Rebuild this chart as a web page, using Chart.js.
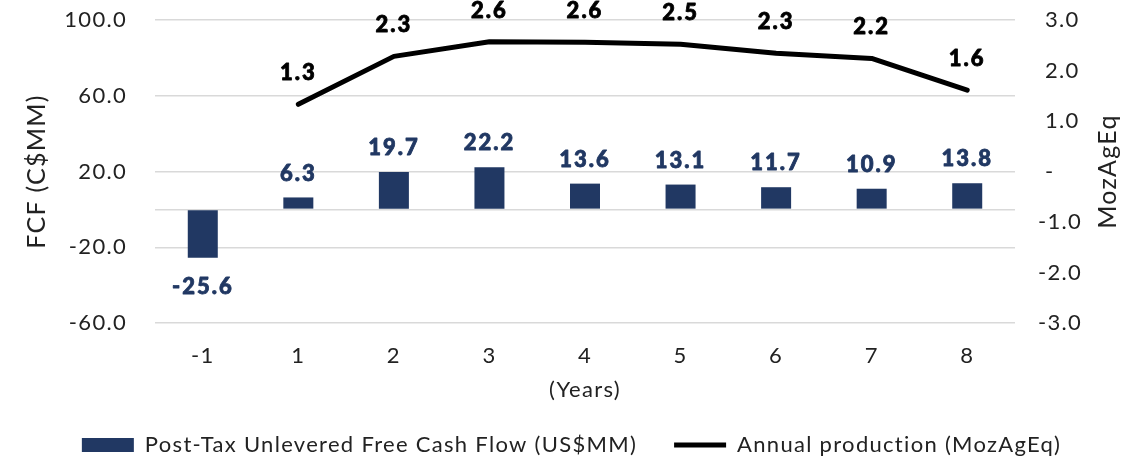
<!DOCTYPE html>
<html>
<head>
<meta charset="utf-8">
<script src="https://cdn.jsdelivr.net/npm/chart.js@4"></script>
<style>
  html, body { margin: 0; padding: 0; background: #fff; }
  #wrap { width: 1143px; height: 460px; }
</style>
</head>
<body>
<div id="wrap"><canvas id="chart"></canvas></div>
<script>
const years = ['-1', '1', '2', '3', '4', '5', '6', '7', '8'];
const freeCashFlow = [-25.6, 6.3, 19.7, 22.2, 13.6, 13.1, 11.7, 10.9, 13.8];
const production = [null, 1.33, 2.28, 2.57, 2.56, 2.52, 2.34, 2.24, 1.61];
const fcfTicks = [100, 60, 20, -20, -60];

const NAVY = '#213863';
const TEXT = '#222222';
const GRID = '#d9d9d9';
const FONT = 'Lato';
const SPACING = '1.3px';

// the original font is wider than Lato, so open up the letters a bit
const wideText = {
  id: 'wideText',
  beforeLayout(chart) { chart.ctx.letterSpacing = SPACING; },
  beforeDraw(chart) { chart.ctx.letterSpacing = SPACING; }
};

// value labels over bars / line points, plus the right axis title (reads bottom-up)
const valueLabels = {
  id: 'valueLabels',
  afterDatasetsDraw(chart) {
    const ctx = chart.ctx;
    ctx.save();
    ctx.textAlign = 'center';
    ctx.textBaseline = 'middle';
    ctx.letterSpacing = '2px';
    ctx.font = '900 22px ' + FONT;
    ctx.lineWidth = 0.8;
    ctx.lineJoin = 'round';
    chart.data.datasets.forEach((ds, i) => {
      const meta = chart.getDatasetMeta(i);
      meta.data.forEach((el, j) => {
        const v = ds.data[j];
        if (v === null) return;
        let y;
        if (ds.type === 'bar') y = v < 0 ? el.y + 29 : el.y - 24;
        else y = el.y - 31;
        ctx.fillStyle = ds.labelColor;
        ctx.strokeStyle = ds.labelColor;
        ctx.fillText(v.toFixed(1), el.x, y);
        ctx.strokeText(v.toFixed(1), el.x, y);
      });
    });
    const area = chart.chartArea;
    const right = chart.scales.y1;
    ctx.translate(right.left + 93, (area.top + area.bottom) / 2);
    ctx.rotate(-Math.PI / 2);
    ctx.letterSpacing = SPACING;
    ctx.font = '25px ' + FONT;
    ctx.fillStyle = TEXT;
    ctx.fillText('MozAgEq', 0, 0);
    ctx.restore();
  }
};

const noEdgePadding = (scale) => {
  scale.paddingTop = 0;
  scale.paddingBottom = 0;
};

new Chart(document.getElementById('chart'), {
  type: 'bar',
  data: {
    labels: years,
    datasets: [
      {
        type: 'bar',
        label: 'Post-Tax Unlevered Free Cash Flow (US$MM)',
        data: freeCashFlow,
        backgroundColor: NAVY,
        borderWidth: 0,
        barPercentage: 0.314,
        categoryPercentage: 1,
        pointStyle: 'rect',
        labelColor: NAVY,
        yAxisID: 'y'
      },
      {
        type: 'line',
        label: 'Annual production (MozAgEq)',
        data: production,
        borderColor: '#000000',
        backgroundColor: '#000000',
        borderWidth: 5,
        borderCapStyle: 'round',
        borderJoinStyle: 'round',
        pointRadius: 0,
        tension: 0,
        pointStyle: 'line',
        labelColor: '#000000',
        yAxisID: 'y1'
      }
    ]
  },
  options: {
    responsive: true,
    maintainAspectRatio: false,
    animation: false,
    layout: { padding: { top: 20, right: 0, bottom: -6, left: 0 } },
    plugins: {
      tooltip: { enabled: false },
      legend: {
        position: 'bottom',
        labels: {
          usePointStyle: true,
          pointStyleWidth: 52,
          boxHeight: 14,
          padding: 37,
          color: TEXT,
          font: { family: FONT, size: 22 }
        }
      }
    },
    scales: {
      x: {
        offset: true,
        grid: { display: false, drawTicks: false },
        border: { display: false },
        ticks: { color: TEXT, padding: 20, font: { family: FONT, size: 22 } },
        title: {
          display: true,
          text: '(Years)',
          color: TEXT,
          padding: { top: 0, bottom: -6 },
          font: { family: FONT, size: 22 }
        },
        afterFit: (scale) => { scale.height = 74; }
      },
      y: {
        position: 'left',
        min: -60,
        max: 100,
        border: { display: false },
        grid: {
          drawTicks: false,
          lineWidth: 1.5,
          color: (c) => (fcfTicks.includes(c.tick.value) || c.tick.value === 0) ? GRID : 'rgba(0,0,0,0)'
        },
        ticks: {
          stepSize: 20,
          padding: 28,
          color: TEXT,
          font: { family: FONT, size: 22 },
          callback: (v) => fcfTicks.includes(v) ? v.toFixed(1) : ''
        },
        title: {
          display: true,
          text: 'FCF (C$MM)',
          color: TEXT,
          padding: { top: 22, bottom: 0 },
          font: { family: FONT, size: 25 }
        },
        afterFit: (scale) => { scale.width = 155; noEdgePadding(scale); }
      },
      y1: {
        position: 'right',
        min: -3,
        max: 3,
        border: { display: false },
        grid: { drawOnChartArea: false, drawTicks: false },
        ticks: {
          stepSize: 1,
          padding: 23,
          color: TEXT,
          font: { family: FONT, size: 22 },
          callback: (v) => v < 0 ? v.toFixed(1) : (v === 0 ? ' -' : ' ' + v.toFixed(1))
        },
        afterFit: (scale) => { scale.width = 128; noEdgePadding(scale); }
      }
    }
  },
  plugins: [wideText, valueLabels]
});
</script>
</body>
</html>
